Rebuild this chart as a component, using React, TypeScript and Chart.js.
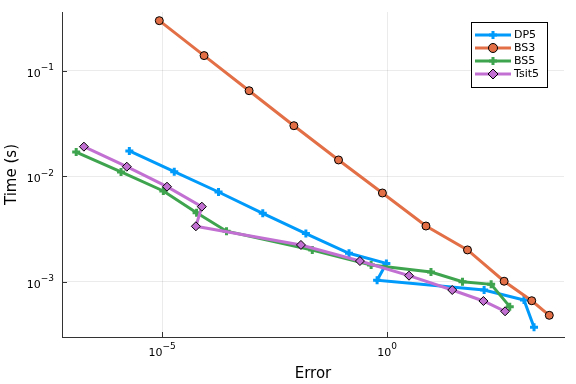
import React, { useEffect, useRef } from "react";
import { Chart, registerables } from "chart.js";

Chart.register(...registerables);

const seriesNames = ["DP5", "BS3", "BS5", "Tsit5"];
const seriesColors = ["#009AFA", "#E26F46", "#3EA44E", "#C271D2"];

const dp5Error = [1.88e-6, 1.87e-5, 1.8e-4, 1.73e-3, 1.57e-2, 0.1426, 0.964, 0.6, 143, 1100, 1837];
const dp5Time = [0.01734, 0.01104, 0.00708, 0.00445, 0.00286, 0.00186, 0.00149, 0.00103, 0.000834, 0.00067, 0.00037];

const bs3Error = [8.7e-6, 8.6e-5, 8.6e-4, 8.5e-3, 0.0834, 0.787, 7.31, 61.1, 398, 1633, 4009];
const bs3Time = [0.298, 0.139, 0.0646, 0.0301, 0.01425, 0.00693, 0.00337, 0.002, 0.00101, 0.00066, 0.00048];

const bs5Error = [1.24e-7, 1.23e-6, 1.07e-5, 5.86e-5, 2.71e-4, 0.0218, 0.442, 9.44, 47.3, 205, 531];
const bs5Time = [0.01694, 0.01096, 0.00724, 0.00451, 0.00301, 0.002, 0.00144, 0.001235, 0.001, 0.000944, 0.00058];

const tsit5Error = [1.84e-7, 1.65e-6, 1.29e-5, 7.67e-5, 5.65e-5, 0.0122, 0.249, 3.07, 28.0, 138, 418];
const tsit5Time = [0.01905, 0.0123, 0.00795, 0.00514, 0.00335, 0.00223, 0.00157, 0.00114, 0.000834, 0.000656, 0.000524];

const xTicks = [1e-5, 1];
const yTicks = [1e-3, 1e-2, 1e-1];
const xRange = [6.46e-8, 8511];
const yRange = [2.99e-4, 0.36];

const FONT = "'DejaVu Sans', sans-serif";

function expText(v: number): string {
  const e = Math.round(Math.log10(v));
  return e < 0 ? "\u2212" + String(-e) : String(e);
}

function drawPow(ctx: CanvasRenderingContext2D, v: number, x: number, baseY: number, align: "center" | "right") {
  ctx.font = "11px " + FONT;
  const wb = ctx.measureText("10").width;
  const et = expText(v);
  ctx.font = "9px " + FONT;
  const we = ctx.measureText(et).width;
  const total = wb + we;
  const x0 = align === "center" ? x - total / 2 : x - total;
  ctx.textAlign = "left";
  ctx.textBaseline = "alphabetic";
  ctx.fillStyle = "#000";
  ctx.font = "11px " + FONT;
  ctx.fillText("10", x0, baseY);
  ctx.font = "9px " + FONT;
  ctx.fillText(et, x0 + wb, baseY - 6.5);
}

const tickLabelPlugin = {
  id: "powTickLabels",
  afterDraw(chart: any) {
    const ctx: CanvasRenderingContext2D = chart.ctx;
    const { x, y } = chart.scales;
    const area = chart.chartArea;
    ctx.save();
    xTicks.forEach((v) => {
      drawPow(ctx, v, x.getPixelForValue(v), area.bottom + 18.5, "center");
    });
    yTicks.forEach((v) => {
      drawPow(ctx, v, area.left - 8, y.getPixelForValue(v) + 6, "right");
    });
    ctx.restore();
  },
};

function drawMarker(ctx: CanvasRenderingContext2D, style: string, x: number, y: number, color: string) {
  ctx.save();
  if (style === "cross") {
    ctx.strokeStyle = color;
    ctx.lineWidth = 3;
    ctx.beginPath();
    ctx.moveTo(x - 4, y); ctx.lineTo(x + 4, y);
    ctx.moveTo(x, y - 4); ctx.lineTo(x, y + 4);
    ctx.stroke();
  } else if (style === "circle") {
    ctx.fillStyle = color;
    ctx.strokeStyle = "#000";
    ctx.lineWidth = 1;
    ctx.beginPath();
    ctx.arc(x, y, 4.5, 0, Math.PI * 2);
    ctx.fill(); ctx.stroke();
  } else {
    ctx.fillStyle = color;
    ctx.strokeStyle = "#000";
    ctx.lineWidth = 1;
    ctx.beginPath();
    ctx.moveTo(x, y - 5); ctx.lineTo(x + 5, y); ctx.lineTo(x, y + 5); ctx.lineTo(x - 5, y);
    ctx.closePath();
    ctx.fill(); ctx.stroke();
  }
  ctx.restore();
}

const legendPlugin = {
  id: "boxLegend",
  afterDraw(chart: any) {
    const ctx: CanvasRenderingContext2D = chart.ctx;
    const area = chart.chartArea;
    const w = 76, h = 65;
    const bx = area.right - 17 - w;
    const by = area.top + 10;
    ctx.save();
    ctx.fillStyle = "#fff";
    ctx.fillRect(bx, by, w, h);
    ctx.strokeStyle = "#000";
    ctx.lineWidth = 1;
    ctx.strokeRect(bx + 0.5, by + 0.5, w, h);
    const styles = ["cross", "circle", "cross", "rectRot"];
    chart.data.datasets.forEach((ds: any, i: number) => {
      const y = by + 13 + i * 13;
      ctx.strokeStyle = ds.borderColor;
      ctx.lineWidth = 3;
      ctx.beginPath();
      ctx.moveTo(bx + 4, y);
      ctx.lineTo(bx + 40, y);
      ctx.stroke();
      drawMarker(ctx, styles[i], bx + 22, y, ds.borderColor);
      ctx.fillStyle = "#000";
      ctx.font = "11px " + FONT;
      ctx.textAlign = "left";
      ctx.textBaseline = "middle";
      ctx.fillText(ds.label, bx + 43, y + 0.5);
    });
    ctx.restore();
  },
};

const innerTicksPlugin = {
  id: "innerTicks",
  afterDatasetsDraw(chart: any) {
    const ctx: CanvasRenderingContext2D = chart.ctx;
    const { x, y } = chart.scales;
    const area = chart.chartArea;
    ctx.save();
    ctx.strokeStyle = "#333";
    ctx.lineWidth = 1;
    ctx.beginPath();
    xTicks.forEach((v) => {
      const px = Math.round(x.getPixelForValue(v)) + 0.5;
      ctx.moveTo(px, area.bottom);
      ctx.lineTo(px, area.bottom - 5);
    });
    yTicks.forEach((v) => {
      const py = Math.round(y.getPixelForValue(v)) + 0.5;
      ctx.moveTo(area.left, py);
      ctx.lineTo(area.left + 5, py);
    });
    ctx.stroke();
    ctx.restore();
  },
};

function toPoints(xs: number[], ys: number[]) {
  return xs.map((v, i) => ({ x: v, y: ys[i] }));
}

export default function App() {
  const ref = useRef<HTMLCanvasElement | null>(null);
  useEffect(() => {
    if (!ref.current) return;
    const errs = [dp5Error, bs3Error, bs5Error, tsit5Error];
    const times = [dp5Time, bs3Time, bs5Time, tsit5Time];
    const styles = ["cross", "circle", "cross", "rectRot"];
    const datasets = seriesNames.map((name, i) => {
      const c = seriesColors[i];
      const cross = styles[i] === "cross";
      return {
        label: name,
        data: toPoints(errs[i], times[i]),
        showLine: true,
        borderColor: c,
        backgroundColor: c,
        borderWidth: 3,
        pointStyle: styles[i],
        pointRadius: cross ? 4 : styles[i] === "circle" ? 4 : 4.5,
        pointBorderWidth: cross ? 3 : 1,
        pointBorderColor: cross ? c : "#000",
        pointBackgroundColor: c,
        order: 4 - i,
        tension: 0,
      };
    });
    const chart = new Chart(ref.current, {
      type: "scatter",
      data: { datasets },
      options: {
        animation: false,
        responsive: false,
        devicePixelRatio: 1,
        layout: { padding: { top: 12, right: 12, left: 0, bottom: 0 } },
        plugins: { legend: { display: false }, tooltip: { enabled: false } },
        scales: {
          x: {
            type: "logarithmic",
            min: xRange[0],
            max: xRange[1],
            afterBuildTicks: (s: any) => { s.ticks = xTicks.map((v) => ({ value: v })); },
            afterFit: (s: any) => { s.height = 47; },
            grid: { color: "rgba(0,0,0,0.08)", drawTicks: false },
            border: { color: "#333", width: 1 },
            ticks: { display: false },
            title: { display: true, text: "Error", color: "#000", font: { family: FONT, size: 15 }, padding: { top: 0, bottom: 1 } },
          },
          y: {
            type: "logarithmic",
            min: yRange[0],
            max: yRange[1],
            afterBuildTicks: (s: any) => { s.ticks = yTicks.map((v) => ({ value: v })); },
            afterFit: (s: any) => { s.width = 62; },
            grid: { color: "rgba(0,0,0,0.08)", drawTicks: false },
            border: { color: "#333", width: 1 },
            ticks: { display: false },
            title: { display: true, text: "Time (s)", color: "#000", font: { family: FONT, size: 15 }, padding: { top: 3, bottom: 0 } },
          },
        },
      },
      plugins: [innerTicksPlugin, legendPlugin, tickLabelPlugin],
    } as any);
    return () => chart.destroy();
  }, []);
  return (
    <div style={{ position: "fixed", left: 0, top: 0, width: 576, height: 384, background: "#fff" }}>
      <canvas ref={ref} width={576} height={384} style={{ display: "block", width: 576, height: 384 }} />
    </div>
  );
}
